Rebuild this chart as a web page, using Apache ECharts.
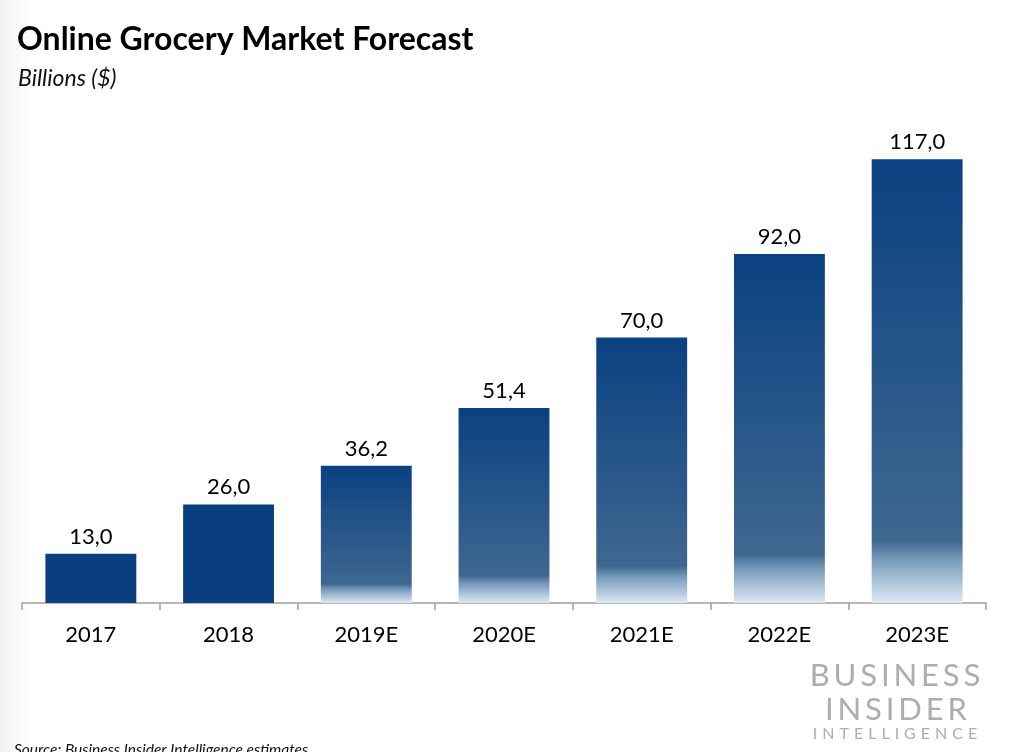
<!DOCTYPE html>
<html>
<head>
<meta charset="utf-8">
<script src="https://cdn.jsdelivr.net/npm/echarts@6/dist/echarts.min.js"></script>
<style>html,body{margin:0;padding:0;background:#fff}#c{width:1024px;height:752px}</style>
</head>
<body>
<div id="c"></div>
<script>
var categories = ['2017', '2018', '2019E', '2020E', '2021E', '2022E', '2023E'];
var values = [13.0, 26.0, 36.2, 51.4, 70.0, 92.0, 117.0];
var isEstimate = [false, false, true, true, true, true, true];

var solid = '#0a3f7f';
var grad = {
  type: 'linear', x: 0, y: 0, x2: 0, y2: 1,
  colorStops: [
    { offset: 0, color: '#0a4181' },
    { offset: 0.86, color: '#3f6790' },
    { offset: 0.9, color: '#7598ba' },
    { offset: 1, color: '#dde9f5' }
  ]
};

var chart = echarts.init(document.getElementById('c'), null, { renderer: 'canvas' });
var font = 'Lato, "Open Sans", sans-serif';
var sp = '\u2005\u200a';
chart.setOption({
  backgroundColor: '#ffffff',
  animation: false,
  title: [
    { text: 'Online Grocery Market Forecast', left: 12, top: 19,
      textStyle: { fontFamily: font, fontWeight: 'bold', fontSize: 32, color: '#000' } },
    { text: 'Billions ($)', left: 13, top: 62,
      textStyle: { fontFamily: font, fontStyle: 'italic', fontWeight: 'normal', fontSize: 23, color: '#111' } }
  ],
  grid: { left: 22, right: 38, top: 110, bottom: 149, containLabel: false },
  xAxis: {
    type: 'category',
    data: categories,
    boundaryGap: true,
    axisLine: { lineStyle: { color: '#a0a0a0', width: 1.5 } },
    axisTick: { show: true, alignWithLabel: false, length: 7, lineStyle: { color: '#a0a0a0', width: 1.5 } },
    axisLabel: { margin: 21, fontFamily: font, fontSize: 22, color: '#000' }
  },
  yAxis: {
    type: 'value', min: 0, max: 130, show: false, splitLine: { show: false }
  },
  series: [{
    type: 'bar',
    barCategoryGap: '34%',
    data: values.map(function (v, i) {
      return { value: v, itemStyle: { color: isEstimate[i] ? grad : solid } };
    }),
    label: {
      show: true, position: 'top', distance: 6,
      fontFamily: font, fontSize: 22, color: '#000',
      formatter: function (p) { return p.value.toFixed(1).replace('.', ','); }
    }
  }],
  graphic: [
    { type: 'rect', left: 0, top: 0, z: -10, shape: { width: 36, height: 752 },
      style: { fill: { type: 'linear', x: 0, y: 0, x2: 1, y2: 0,
        colorStops: [{ offset: 0, color: '#f2f2f2' }, { offset: 1, color: '#ffffff' }] } } },
    { type: 'text', x: 895, y: 676, style: { text: 'B\u2009U\u2009S\u2009I\u2009N\u2009E\u2009S\u2009S', fontFamily: font, fontSize: 31, fill: '#adadad', textAlign: 'center', textVerticalAlign: 'middle' } },
    { type: 'text', x: 896, y: 710, style: { text: 'I\u2009N\u2009S\u2009I\u2009D\u2009E\u2009R', fontFamily: font, fontSize: 31, fill: '#adadad', textAlign: 'center', textVerticalAlign: 'middle' } },
    { type: 'text', x: 895, y: 734, style: { text: ['I','N','T','E','L','L','I','G','E','N','C','E'].join(sp), fontFamily: font, fontSize: 16, fill: '#adadad', textAlign: 'center', textVerticalAlign: 'middle' } },
    { type: 'text', x: 14, y: 750, style: { text: 'Source: Business Insider Intelligence estimates', fontFamily: font, fontStyle: 'italic', fontSize: 15.5, fill: '#111', textAlign: 'left', textVerticalAlign: 'middle' } }
  ]
});
</script>
</body>
</html>
